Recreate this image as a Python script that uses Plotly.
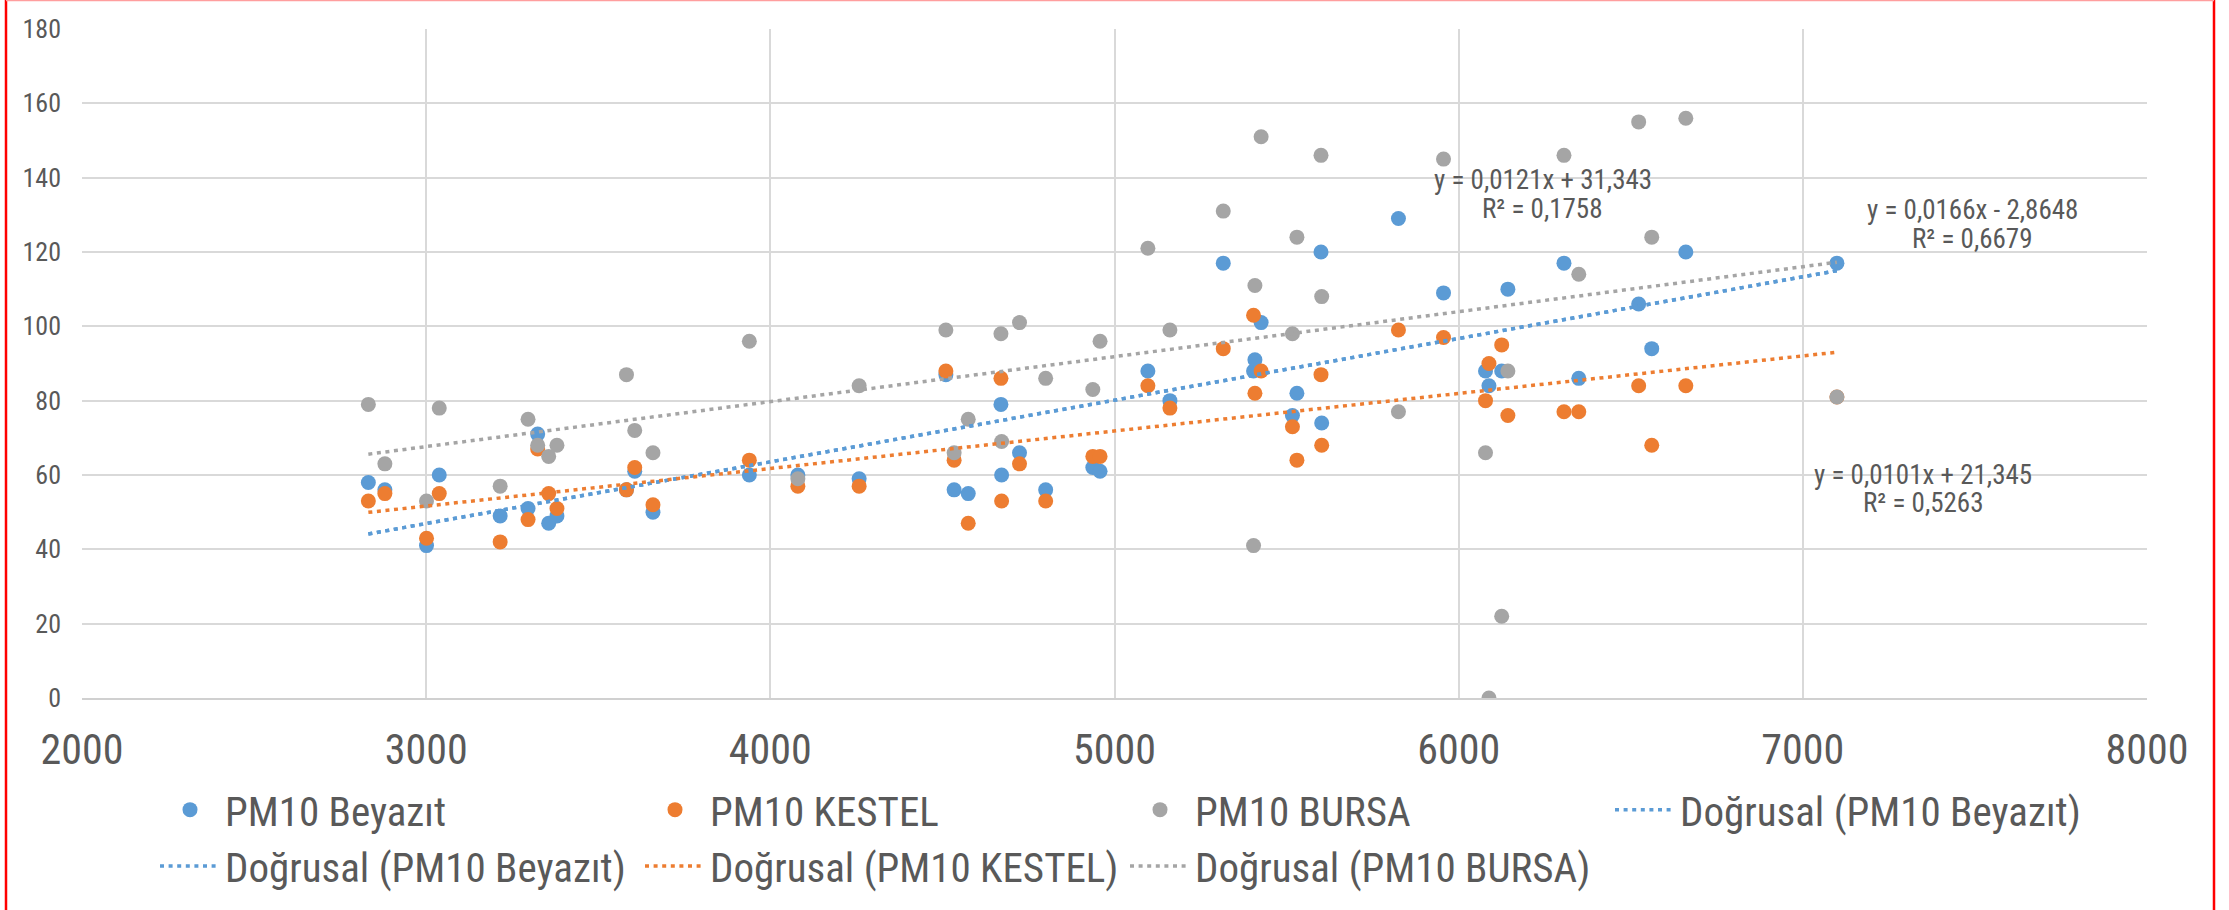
import plotly.graph_objects as go

# ---- data ----
x_vals = [2832, 2880, 3001, 3038, 3215, 3296, 3324, 3356, 3380, 3582, 3606, 3659, 3939, 4080, 4258,
          4510, 4534, 4575, 4670, 4672, 4724, 4800, 4937, 4958, 5097, 5161, 5316, 5404, 5408, 5426,
          5517, 5530, 5600, 5602, 5825, 5956, 6078, 6088, 6125, 6143, 6306, 6349, 6523, 6561, 6660, 7099]

pm10_beyazit = [58, 56, 41, 60, 49, 51, 71, 47, 49, 56, 61, 50, 60, 60, 59, 87, 56, 55, 79, 60, 66, 56, 62,
                61, 88, 80, 117, 88, 91, 101, 76, 82, 120, 74, 129, 109, 88, 84, 88, 110, 117, 86, 106,
                94, 120, 117]
pm10_kestel = [53, 55, 43, 55, 42, 48, 67, 55, 51, 56, 62, 52, 64, 57, 57, 88, 64, 47, 86, 53, 63, 53, 65,
               65, 84, 78, 94, 103, 82, 88, 73, 64, 87, 68, 99, 97, 80, 90, 95, 76, 77, 77, 84, 68, 84, 81]
pm10_bursa = [79, 63, 53, 78, 57, 75, 68, 65, 68, 87, 72, 66, 96, 59, 84, 99, 66, 75, 98, 69, 101, 86, 83,
              96, 121, 99, 131, 41, 111, 151, 98, 124, 146, 108, 77, 145, 66, 0, 22, 88, 146, 114, 155,
              124, 156, 81]

series_names = ["PM10 Beyazıt", "PM10 KESTEL", "PM10 BURSA"]
trend_names = ["Doğrusal (PM10 Beyazıt)", "Doğrusal (PM10 Beyazıt)", "Doğrusal (PM10 KESTEL)", "Doğrusal (PM10 BURSA)"]
# trendline coefficients as printed on the chart: Beyazıt, KESTEL, BURSA
trend_slope = [0.0166, 0.0101, 0.0121]
trend_intercept = [-2.8648, 21.345, 31.343]
eq_line1 = ["y = 0,0166x - 2,8648", "y = 0,0101x + 21,345", "y = 0,0121x + 31,343"]
eq_line2 = ["R² = 0,6679", "R² = 0,5263", "R² = 0,1758"]

colors = ["#5B9BD5", "#ED7D31", "#A5A5A5"]
FONT = "Liberation Sans Narrow, Arial Narrow, Roboto Condensed, DejaVu Sans Condensed, sans-serif"
TXT = "#595959"

fig = go.Figure()
ys = [pm10_beyazit, pm10_kestel, pm10_bursa]
for name, y, c in zip(series_names, ys, colors):
    fig.add_trace(go.Scatter(x=x_vals, y=y, mode="markers", name=name,
                             marker=dict(color=c, size=15, line=dict(width=0))))

xmin, xmax = min(x_vals), max(x_vals)
trend_idx = [0, 0, 1, 2]
for tname, i in zip(trend_names, trend_idx):
    xs = [xmin, xmax]
    yl = [trend_slope[i] * v + trend_intercept[i] for v in xs]
    fig.add_trace(go.Scatter(x=xs, y=yl, mode="lines", name=tname,
                             line=dict(color=colors[i], width=3.5, dash="4px,4.6px")))

# equation labels (positions in data coordinates)
eq_pos = [  # (x, y line1, y line2) for Beyazıt, KESTEL, BURSA
    (7494, 131.4, 123.6),
    (7350, 59.9, 52.4),
    (6244, 139.5, 131.6),
]
annotations = []
for (ax_, y1, y2), t1, t2 in zip(eq_pos, eq_line1, eq_line2):
    annotations.append(dict(x=ax_, y=y1, xref="x", yref="y", text=t1, showarrow=False,
                            font=dict(family=FONT, size=27, color=TXT), xanchor="center", yanchor="middle"))
    annotations.append(dict(x=ax_, y=y2, xref="x", yref="y", text=t2, showarrow=False,
                            font=dict(family=FONT, size=27, color=TXT), xanchor="center", yanchor="middle"))

W, H = 2229, 910
L, R, T, B = 82, 82, 29, 211
pw, ph = W - L - R, H - T - B

def px_x(p):
    return (p - L) / pw

def px_y(p):
    return (H - B - p) / ph

shapes = [
    dict(type="line", xref="paper", yref="paper", x0=px_x(6), x1=px_x(6), y0=px_y(0), y1=px_y(930),
         line=dict(color="#FF0000", width=2.5)),
    dict(type="line", xref="paper", yref="paper", x0=px_x(2214), x1=px_x(2214), y0=px_y(0), y1=px_y(930),
         line=dict(color="#FF0000", width=2.5)),
    dict(type="line", xref="paper", yref="paper", x0=px_x(6), x1=px_x(2214), y0=px_y(0.5), y1=px_y(0.5),
         line=dict(color="#FF9E9E", width=1.5)),
]

fig.update_layout(
    width=W, height=H,
    margin=dict(l=L, r=R, t=T, b=B, pad=0),
    paper_bgcolor="white", plot_bgcolor="white",
    showlegend=True,
    legend=dict(x=px_x(155), y=px_y(838), orientation="h", xanchor="left", yanchor="middle",
                bgcolor="rgba(0,0,0,0)", font=dict(family=FONT, size=41, color=TXT), itemwidth=60,
                entrywidth=410, entrywidthmode="pixels", traceorder="normal", borderwidth=0),
    xaxis=dict(range=[2000, 8000], dtick=1000, tick0=2000, showgrid=True, gridcolor="#D9D9D9", gridwidth=2,
               zeroline=False, showline=True, linecolor="#D0D0D0", linewidth=2,
               ticks="", ticklabelstandoff=14,
               tickfont=dict(family=FONT, size=42, color=TXT)),
    yaxis=dict(range=[0, 180], dtick=20, tick0=0, showgrid=True, gridcolor="#D9D9D9", gridwidth=2,
               zeroline=False, showline=False, ticks="", ticklabelstandoff=20,
               tickfont=dict(family=FONT, size=26, color=TXT)),
    annotations=annotations,
    shapes=shapes,
)

fig.write_html("out.html")
